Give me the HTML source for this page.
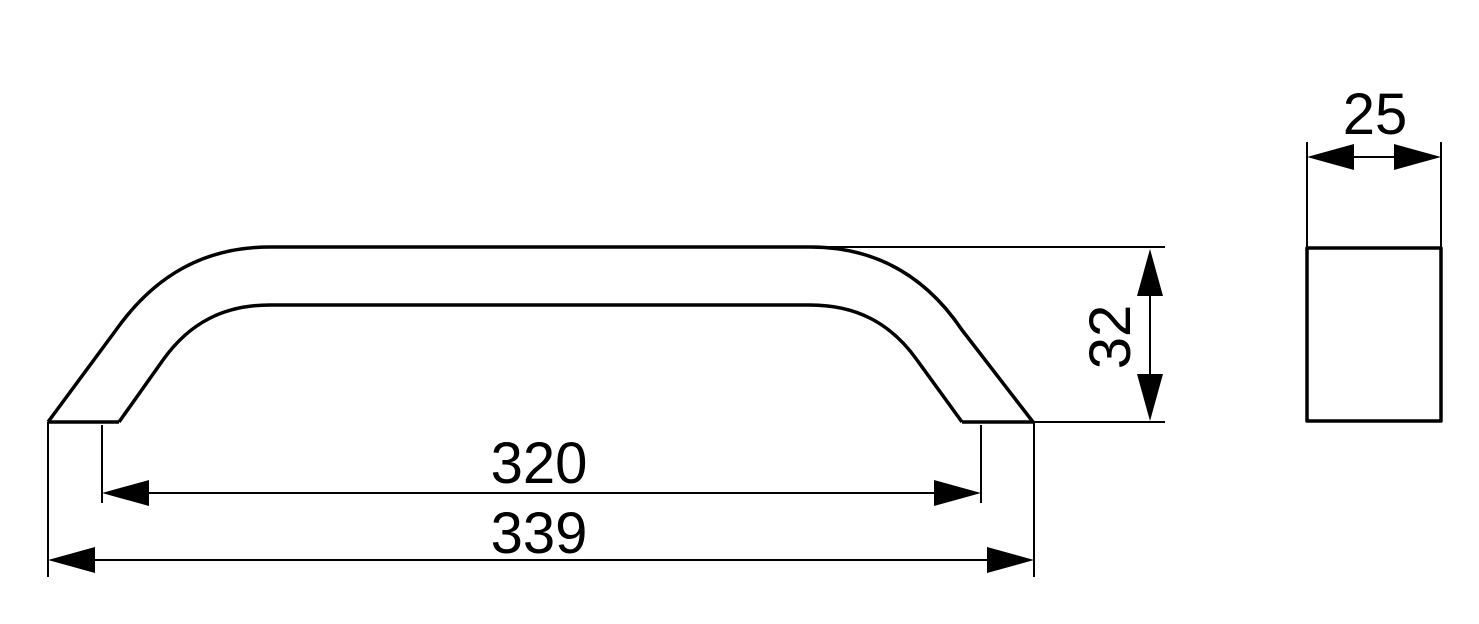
<!DOCTYPE html>
<html><head><style>html,body{margin:0;padding:0;background:#fff}svg{display:block}</style></head><body>
<svg width="1479" height="624" viewBox="0 0 1479 624" xmlns="http://www.w3.org/2000/svg">
<g fill="none" stroke="#000" stroke-width="3.5" stroke-linejoin="round">
<path d="M48,422 L116,330 C155,275 205,247 270,247 L810,247 C875,247 925,275 962,330 L1033,422"/>
<path d="M119,422 L163,360 C190,322 225,305 270,305 L810,305 C855,305 890,322 917,360 L962,422"/>
<path d="M48,422 L119,422 M962,422 L1033,422"/>
<rect x="1307" y="248" width="134" height="173"/>
</g>
<g stroke="#000" stroke-width="2" fill="none">
<path d="M810,247 L1165,247 M1033,422 L1165,422"/>
<path d="M48,422 L48,577 M102,425 L102,503 M981,425 L981,503 M1034,422 L1034,577"/>
<path d="M1307,142 L1307,248 M1441,142 L1441,248"/>
<path d="M1150,260 L1150,410 M110,493 L975,493 M55,560 L1028,560 M1315,157 L1434,157"/>
</g>
<g fill="#000">
<polygon points="102,493 149,480 149,506"/>
<polygon points="981,493 934,480 934,506"/>
<polygon points="48,560 95,547 95,573"/>
<polygon points="1034,560 987,547 987,573"/>
<polygon points="1150,249 1137,296 1163,296"/>
<polygon points="1150,421 1137,374 1163,374"/>
<polygon points="1307,157 1354,144 1354,170"/>
<polygon points="1441,157 1394,144 1394,170"/>
</g>
<g font-family="Liberation Sans, sans-serif" font-size="58" fill="#000" text-anchor="middle">
<text x="539" y="483">320</text>
<text x="539" y="553">339</text>
<text x="1375" y="134">25</text>
<text transform="translate(1130,337) rotate(-90)">32</text>
</g>
</svg>
</body></html>
